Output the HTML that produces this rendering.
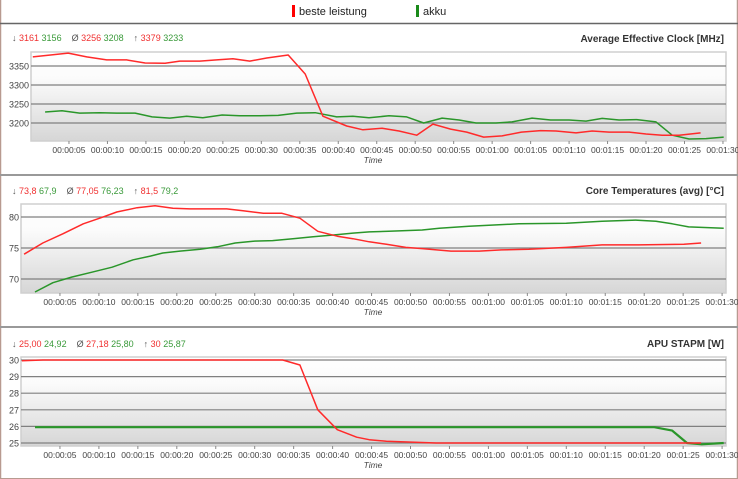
<!DOCTYPE html>
<html><head><meta charset="utf-8"><style>
body{margin:0;background:#fff;}
svg{display:block;font-family:"Liberation Sans",sans-serif;}
</style></head><body>
<svg id="c" width="738" height="479" viewBox="0 0 738 479">
<defs>
<linearGradient id="bg" x1="0" y1="0" x2="0" y2="1">
<stop offset="0" stop-color="#ffffff"/><stop offset="0.3" stop-color="#fbfbfb"/><stop offset="1" stop-color="#d6d6d6"/>
</linearGradient>
</defs>
<rect x="0" y="0" width="738" height="479" fill="#fff"/>
<line x1="0.5" y1="0" x2="0.5" y2="479" stroke="#b89a90" stroke-width="1.5"/>
<line x1="737.5" y1="0" x2="737.5" y2="479" stroke="#b89a90" stroke-width="1.5"/>
<line x1="0" y1="478.5" x2="738" y2="478.5" stroke="#b89a90" stroke-width="1"/>
<g>
<rect x="292" y="5" width="3" height="12" fill="#ff0000"/>
<text x="299" y="15" font-size="11" fill="#222">beste leistung</text>
<rect x="416" y="5" width="3" height="12" fill="#1a8a1a"/>
<text x="423" y="15" font-size="11" fill="#222">akku</text>
</g>
<line x1="0" y1="23.5" x2="738" y2="23.5" stroke="#666" stroke-width="1.5"/>
<line x1="0" y1="175" x2="738" y2="175" stroke="#999" stroke-width="2"/>
<line x1="0" y1="327" x2="738" y2="327" stroke="#999" stroke-width="2"/>
<g id="charts"></g>
</svg>
<script>
// Panel 1: Average Effective Clock [MHz]
const clockRedT=[0.3,4.9,7.3,9.9,12.5,14.9,17.5,19.4,22.0,24.2,26.3,28.5,30.7,33.5,35.7,38.0,41.1,43.2,45.7,47.9,50.2,52.3,54.6,56.7,58.9,61.3,63.8,66.3,68.3,70.9,73.0,75.2,77.8,80.0,82.1,84.3,87.1];
const clockRedV=[3374,3384,3374,3366,3366,3358,3357,3363,3363,3366,3369,3363,3371,3379,3329,3218,3192,3182,3186,3179,3168,3197,3184,3176,3163,3166,3176,3180,3179,3174,3179,3176,3176,3171,3168,3168,3174];
const clockGreenT=[1.9,4.1,6.4,9.0,11.2,13.6,15.8,18.1,20.3,22.4,24.9,27.2,29.8,32.2,34.6,37.0,39.8,41.9,44.0,46.6,48.9,51.1,53.5,55.7,57.9,60.5,62.6,65.2,67.6,70.0,72.2,74.3,76.5,78.8,81.3,83.4,85.6,87.8,90.1];
const clockGreenV=[3229,3232,3226,3227,3226,3226,3216,3213,3218,3214,3221,3219,3219,3220,3226,3227,3216,3218,3214,3219,3216,3200,3213,3208,3200,3200,3203,3213,3208,3208,3205,3212,3208,3209,3203,3168,3158,3159,3163];
const clockTicks=[3200,3250,3300,3350];
// Panel 2: Core Temperatures
const tempRedT=[0.4,2.8,5.4,8.0,10.1,12.3,14.9,17.2,19.5,21.7,23.9,26.4,28.5,31.1,33.5,35.8,38.1,40.6,42.6,44.7,46.9,49.4,51.5,55.2,58.8,61.7,65.2,70.0,74.6,79.3,85.1,87.3];
const tempRedV=[74.0,75.8,77.3,78.9,79.8,80.8,81.5,81.8,81.4,81.3,81.3,81.3,81.0,80.6,80.6,79.8,77.7,76.9,76.5,76.0,75.6,75.1,74.9,74.5,74.5,74.7,74.8,75.1,75.5,75.5,75.6,75.8];
const tempGreenT=[1.8,4.1,6.5,9.1,11.7,14.4,16.6,18.2,20.4,23.0,25.2,27.5,29.8,32.3,34.9,37.5,40.1,42.6,44.7,47.2,51.5,53.7,57.5,63.9,70.0,74.6,78.9,81.5,83.6,85.7,90.2];
const tempGreenV=[67.9,69.4,70.3,71.1,71.9,73.1,73.7,74.2,74.5,74.8,75.2,75.8,76.1,76.2,76.5,76.8,77.1,77.4,77.6,77.7,77.9,78.2,78.5,78.9,79.0,79.3,79.5,79.3,78.9,78.4,78.2];
const tempTicks=[70,75,80];
// Panel 3: APU STAPM
const apuRedT=[0.1,2.8,33.6,35.8,38.1,40.6,43.1,44.7,46.9,53.3,87.3];
const apuRedV=[29.95,30,30,29.7,27.0,25.8,25.35,25.2,25.1,25.0,25.0];
const apuGreenT=[1.8,81.3,83.6,85.5,87.4,90.2];
const apuGreenV=[25.95,25.95,25.75,25.0,24.92,25.0];
const apuTicks=[25,26,27,28,29,30];
const timeTicks=[5,10,15,20,25,30,35,40,45,50,55,60,65,70,75,80,85,90];

const NS="http://www.w3.org/2000/svg";
const root=document.getElementById('charts');
function mk(tag,attrs,parent){const e=document.createElementNS(NS,tag);for(const k in attrs)e.setAttribute(k,attrs[k]);(parent||root).appendChild(e);return e;}
function fmt(s){const m=Math.floor(s/60),r=s%60;return "00:"+String(m).padStart(2,'0')+":"+String(r).padStart(2,'0');}

const panels=[
 {key:'clock',title:'Average Effective Clock [MHz]',left:31,right:726,top:52,bottom:141,x0:30.5,pps:7.694,yA:3350,pA:66,yB:3200,pB:123,ticks:clockTicks,
  stats:[['↓','3161','3156'],['Ø','3256','3208'],['↑','3379','3233']],statY:41,titleY:42,
  series:[[clockGreenT,clockGreenV,'#2a962a',1.5,'clock-akku-line'],[clockRedT,clockRedV,'#ff2a2a',1.5,'clock-beste-leistung-line']]},
 {key:'temp',title:'Core Temperatures (avg) [°C]',left:21,right:726,top:204,bottom:293,x0:21,pps:7.79,yA:80,pA:217,yB:70,pB:279,ticks:tempTicks,
  stats:[['↓','73,8','67,9'],['Ø','77,05','76,23'],['↑','81,5','79,2']],statY:194,titleY:194,
  series:[[tempGreenT,tempGreenV,'#2a962a',1.5,'temp-akku-line'],[tempRedT,tempRedV,'#ff2a2a',1.5,'temp-beste-leistung-line']]},
 {key:'apu',title:'APU STAPM [W]',left:21,right:726,top:357,bottom:446,x0:21,pps:7.79,yA:30,pA:360,yB:25,pB:443,ticks:apuTicks,
  stats:[['↓','25,00','24,92'],['Ø','27,18','25,80'],['↑','30','25,87']],statY:347,titleY:347,
  series:[[apuGreenT,apuGreenV,'#2a962a',2.2,'apu-akku-line'],[apuRedT,apuRedV,'#ff2a2a',1.5,'apu-beste-leistung-line']]}
];

panels.forEach(p=>{
 const g=mk('g',{});
 
 
 const xs=t=>p.x0+t*p.pps;
 const ys=v=>p.pA+(v-p.yA)*(p.pB-p.pA)/(p.yB-p.yA);
 const bg=mk('rect',{x:p.left,y:p.top,width:p.right-p.left,height:p.bottom-p.top,fill:'url(#bg)',stroke:'#cfcfcf','stroke-width':1.5},g);
 
 
 // stats
 let sx=p.key==='clock'?12:12;
 const st=mk('text',{x:sx,y:p.statY,'font-size':9},g);
 
 
 p.stats.forEach((s,i)=>{
  const a=mk('tspan',{fill:'#555',dx:i?10:0},st);a.textContent=s[0]+' ';
  const b=mk('tspan',{fill:'#f03030'},st);b.textContent=s[1]+' ';
  const c=mk('tspan',{fill:'#3a9a3a'},st);c.textContent=s[2];
 });
 const tt=mk('text',{x:724,y:p.titleY,'font-size':10,'font-weight':'bold',fill:'#333','text-anchor':'end'},g);
 tt.textContent=p.title;
 
 
 // grid + y ticks
 p.ticks.forEach(v=>{
  const y=ys(v);
  const l=mk('line',{x1:p.left,x2:p.right,y1:y,y2:y,stroke:'#808080','stroke-width':1.2},g);
  
  
  const t=mk('text',{x:p.left-2,y:y+3.5,'font-size':9,fill:'#444','text-anchor':'end'},g);
  t.textContent=v;
  
  
 });
 // x ticks
 timeTicks.forEach(s=>{
  const x=xs(s);
  mk('line',{x1:x,x2:x,y1:p.bottom,y2:p.bottom+3,stroke:'#888'},g);
  const t=mk('text',{x:x,y:p.bottom+12,'font-size':8.5,fill:'#444','text-anchor':'middle'},g);
  t.textContent=fmt(s);
  
  
 });
 const xt=mk('text',{x:373,y:p.bottom+22,'font-size':8.5,'font-style':'italic',fill:'#444','text-anchor':'middle'},g);
 xt.textContent='Time';
 
 
 // series
 p.series.forEach(s=>{
  const [T,V,col,w,name]=s;
  const pts=T.map((t,i)=>xs(t).toFixed(1)+','+ys(V[i]).toFixed(1)).join(' ');
  const pl=mk('polyline',{points:pts,fill:'none',stroke:col,'stroke-width':w,'stroke-linejoin':'round'},g);
  
  
 });
});
</script>
</body></html>
